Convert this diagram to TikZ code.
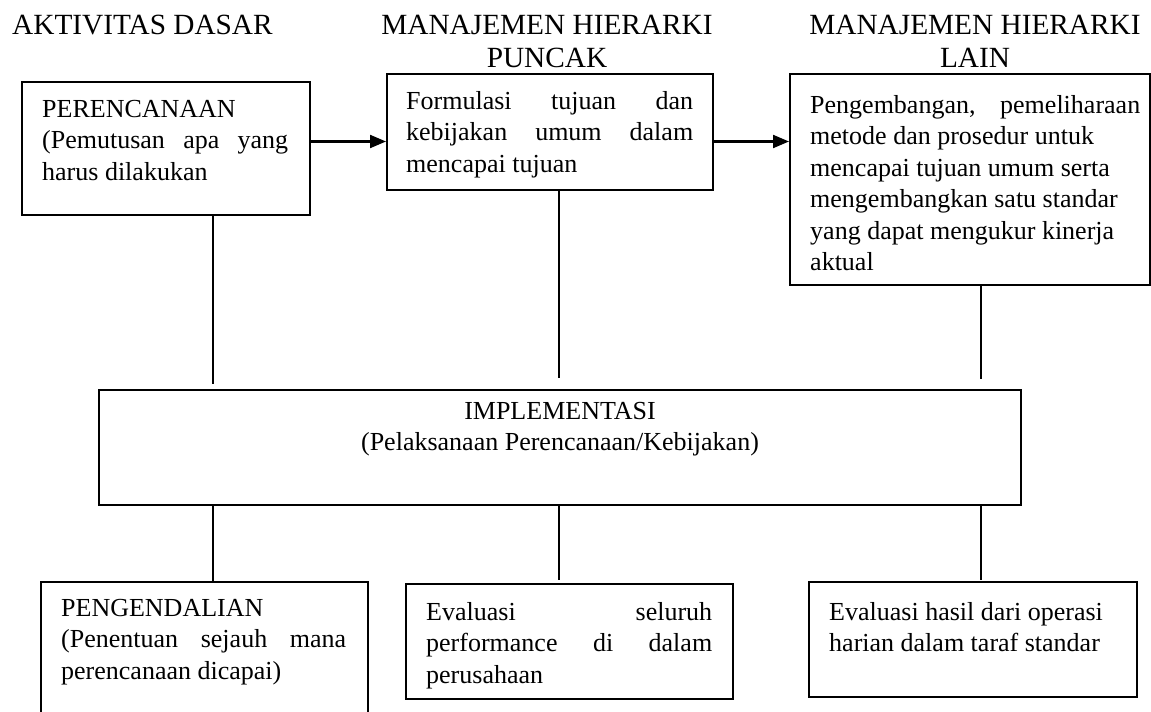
\documentclass[tikz,border=0pt]{standalone}
\usepackage{fontspec}
\setmainfont{Liberation Serif}
\usetikzlibrary{arrows.meta}

% a line stretched to a fixed width (justified)
\newcommand{\jline}[2]{\makebox[#1][s]{#2}}

\begin{document}
\begin{tikzpicture}[x=1pt,y=-1pt,
  box/.style={draw,line width=2pt,inner sep=0pt,anchor=north west},
  body/.style={font=\fontsize{26}{31.5}\selectfont,inner sep=0pt,align=left,anchor=north west},
  head/.style={font=\fontsize{29.3}{33}\selectfont,inner sep=0pt,align=center,anchor=north},
  link/.style={line width=1.8pt},
  arr/.style={line width=2.2pt,-{Triangle[length=16pt,width=13pt]}}]

\useasboundingbox (0,0) rectangle (1151,712);
\clip (0,0) rectangle (1151,712);

% column headings
\node[head,anchor=north west] (hBasic) at (12,10.9) {\strut AKTIVITAS DASAR};
\node[head] (hTop) at (547,10.9) {\strut MANAJEMEN HIERARKI\\PUNCAK};
\node[head] (hOther) at (975,10.9) {\strut MANAJEMEN HIERARKI\\LAIN};

% upper row of boxes
\node[box,minimum width=288pt,minimum height=133pt] (plan) at (21,81) {};
\node[body] (planT) at (42,95) {\strut PERENCANAAN\\\jline{246pt}{(Pemutusan apa yang}\\harus dilakukan};

\node[box,minimum width=326pt,minimum height=116pt] (goal) at (386,73) {};
\node[body] (goalT) at (406,87) {\strut\jline{287pt}{Formulasi tujuan dan}\\\jline{287pt}{kebijakan umum dalam}\\mencapai tujuan};

\node[box,minimum width=360pt,minimum height=211pt] (method) at (789,73) {};
\node[body] (methodT) at (810,91) {\strut\jline{330pt}{Pengembangan, pemeliharaan}\\metode dan prosedur untuk\\mencapai tujuan umum serta\\mengembangkan satu standar\\yang dapat mengukur kinerja\\aktual};

% implementation
\node[box,minimum width=922pt,minimum height=115pt] (impl) at (98,389) {};
\node[body,align=center,anchor=north] (implT) at (560,397) {\strut IMPLEMENTASI\\(Pelaksanaan Perencanaan/Kebijakan)};

% lower row of boxes
\node[box,minimum width=327pt,minimum height=150pt] (ctrl) at (40,581) {};
\node[body] (ctrlT) at (61,594) {\strut PENGENDALIAN\\\jline{285pt}{(Penentuan sejauh mana}\\perencanaan dicapai)};

\node[box,minimum width=327pt,minimum height=115pt] (eval) at (405,583) {};
\node[body] (evalT) at (426,598) {\strut\jline{286pt}{Evaluasi seluruh}\\\jline{286pt}{performance di dalam}\\perusahaan};

\node[box,minimum width=328pt,minimum height=115pt] (daily) at (808,581) {};
\node[body] (dailyT) at (829,598) {\strut Evaluasi hasil dari operasi\\harian dalam taraf standar};

% guide coordinates for the connectors
\coordinate (xL) at (213,0);
\coordinate (xM) at (559,0);
\coordinate (xR) at (981,0);
\coordinate (yA) at (0,141.5);

% arrows along the upper row
\draw[arr] (plan.east |- yA) -- (goal.west |- yA);
\draw[arr] (goal.east |- yA) -- (method.west |- yA);

% links into and out of the implementation box
\draw[link,shorten >=5pt] (xL |- plan.south) -- (xL |- impl.north);
\draw[link,shorten >=11pt] (xM |- goal.south) -- (xM |- impl.north);
\draw[link,shorten >=10pt] (xR |- method.south) -- (xR |- impl.north);
\draw[link] (xL |- impl.south) -- (xL |- ctrl.north);
\draw[link,shorten >=3pt] (xM |- impl.south) -- (xM |- eval.north);
\draw[link,shorten >=1pt] (xR |- impl.south) -- (xR |- daily.north);
\end{tikzpicture}
\end{document}
